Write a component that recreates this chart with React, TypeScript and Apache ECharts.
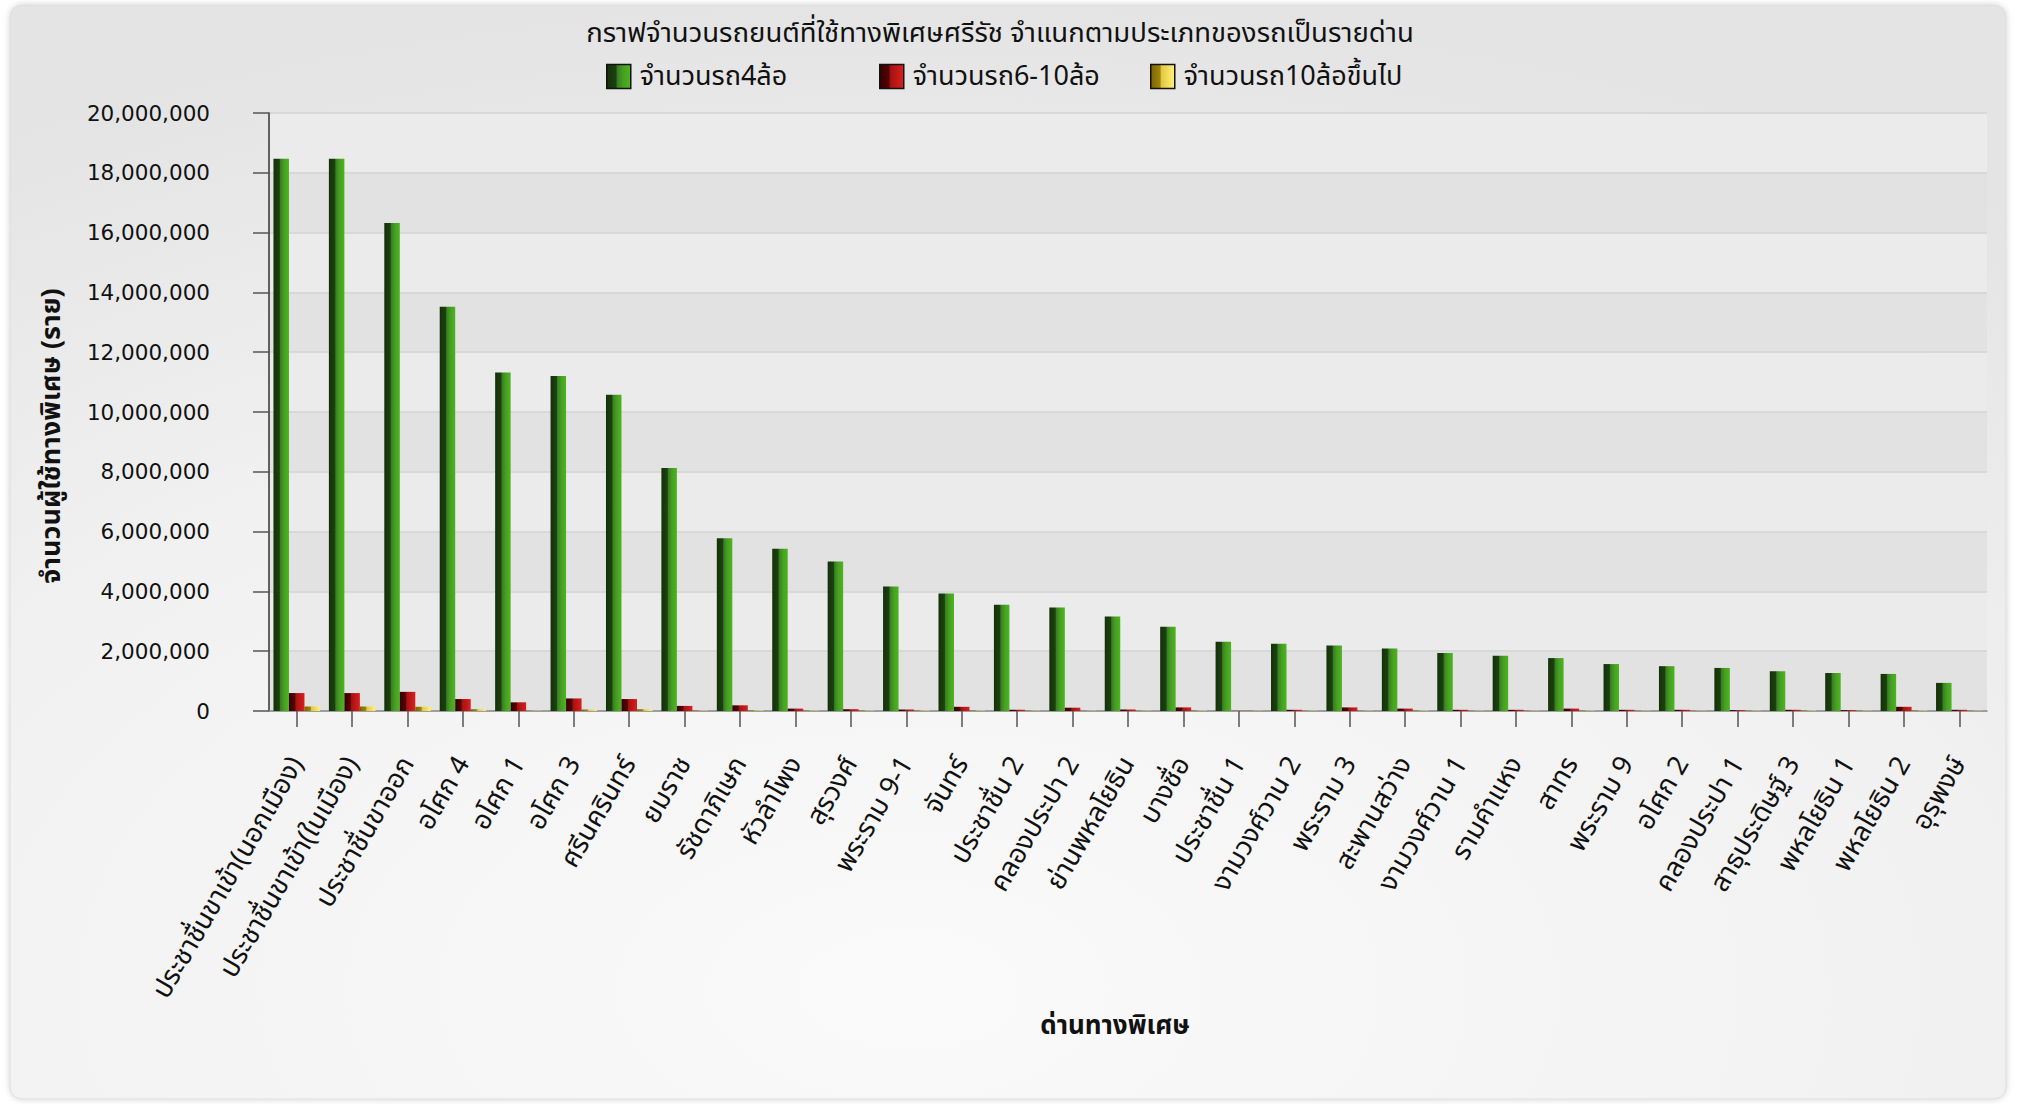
import React, { useEffect, useRef } from "react";
import * as echarts from "echarts";

const categories = [
  "ประชาชื่นขาเข้า(นอกเมือง)",
  "ประชาชื่นขาเข้า(ในเมือง)",
  "ประชาชื่นขาออก",
  "อโศก 4",
  "อโศก 1",
  "อโศก 3",
  "ศรีนครินทร์",
  "ยมราช",
  "รัชดาภิเษก",
  "หัวลำโพง",
  "สุรวงศ์",
  "พระราม 9-1",
  "จันทร์",
  "ประชาชื่น 2",
  "คลองประปา 2",
  "ย่านพหลโยธิน",
  "บางซื่อ",
  "ประชาชื่น 1",
  "งามวงศ์วาน 2",
  "พระราม 3",
  "สะพานสว่าง",
  "งามวงศ์วาน 1",
  "รามคำแหง",
  "สาทร",
  "พระราม 9",
  "อโศก 2",
  "คลองประปา 1",
  "สาธุประดิษฐ์ 3",
  "พหลโยธิน 1",
  "พหลโยธิน 2",
  "อุรุพงษ์",
];

const cars4 = [
  18470000, 18470000, 16320000, 13520000, 11320000, 11200000, 10580000, 8130000,
  5780000, 5430000, 5000000, 4160000, 3930000, 3550000, 3460000, 3160000, 2820000,
  2320000, 2250000, 2190000, 2090000, 1940000, 1850000, 1770000, 1570000, 1500000,
  1440000, 1330000, 1270000, 1240000, 940000,
];

const cars6to10 = [
  600000, 600000, 640000, 400000, 290000, 420000, 400000, 170000, 190000, 80000,
  60000, 50000, 140000, 40000, 110000, 50000, 120000, 5000, 40000, 120000, 80000,
  40000, 40000, 80000, 40000, 40000, 30000, 40000, 30000, 140000, 40000,
];

const cars10plus = [
  150000, 150000, 140000, 60000, 10000, 50000, 60000, 15000, 20000, 15000, 15000,
  15000, 15000, 10000, 10000, 10000, 15000, 10000, 10000, 10000, 15000, 10000,
  10000, 15000, 10000, 10000, 10000, 15000, 10000, 15000, 10000,
];

const seriesNames = ["จำนวนรถ4ล้อ", "จำนวนรถ6-10ล้อ", "จำนวนรถ10ล้อขึ้นไป"];
const yTickInterval = 2000000;
const yMax = 20000000;

const TH = '"Noto Sans Thai", "Noto Sans Thai Looped", "Noto Sans", "DejaVu Sans", sans-serif';

function grad(stops: [number, string][]) {
  return new echarts.graphic.LinearGradient(
    0, 0, 1, 0,
    stops.map(([offset, color]) => ({ offset, color }))
  );
}

export default function App() {
  const ref = useRef<HTMLDivElement>(null);

  useEffect(() => {
    if (!ref.current) return;
    const chart = echarts.init(ref.current, null, { renderer: "svg" });

    const green = grad([
      [0, "#143108"],
      [0.38, "#1c4110"],
      [0.45, "#3a7d27"],
      [0.7, "#45a21f"],
      [1, "#4db41f"],
    ]);
    const red = grad([
      [0, "#360000"],
      [0.38, "#560404"],
      [0.45, "#a41212"],
      [1, "#dc1e1e"],
    ]);
    const yellow = grad([
      [0, "#7a6400"],
      [0.38, "#9c8410"],
      [0.45, "#e4c840"],
      [1, "#fff27a"],
    ]);

    const legendBase = {
      top: 58,
      itemWidth: 24,
      itemHeight: 24,
      icon: "rect",
      itemStyle: { borderColor: "#111", borderWidth: 1.5 },
      textStyle: {
        fontFamily: TH,
        fontSize: 27,
        color: "#111",
        padding: [0, 0, 0, 4],
      },
      selectedMode: false,
    };

    chart.setOption({
      animation: false,
      backgroundColor: "#ffffff",
      graphic: [
        {
          type: "rect",
          z: -100,
          silent: true,
          shape: { x: 10, y: 5, width: 1996, height: 1094, r: 12 },
          style: {
            fill: new echarts.graphic.RadialGradient(0.45, 0.9, 0.9, [
              { offset: 0, color: "#fafafa" },
              { offset: 0.6, color: "#f1f1f1" },
              { offset: 1, color: "#e4e4e4" },
            ]),
            stroke: "#dcdcdc",
            lineWidth: 1,
            shadowBlur: 6,
            shadowColor: "rgba(0,0,0,0.18)",
          },
        },
      ],
      title: {
        text: "กราฟจำนวนรถยนต์ที่ใช้ทางพิเศษศรีรัช จำแนกตามประเภทของรถเป็นรายด่าน",
        left: 995,
        textAlign: "center",
        top: 14,
        textStyle: {
          fontFamily: TH,
          fontSize: 27.5,
          fontWeight: "normal",
          color: "#111",
        },
      },
      legend: [
        { ...legendBase, left: 601, data: [seriesNames[0]] },
        { ...legendBase, left: 874, data: [seriesNames[1]] },
        { ...legendBase, left: 1145, data: [seriesNames[2]] },
      ],
      grid: { left: 269, right: 33, top: 113, bottom: 393 },
      xAxis: {
        type: "category",
        data: categories,
        name: "ด่านทางพิเศษ",
        nameLocation: "middle",
        nameGap: 302,
        nameTextStyle: {
          fontFamily: TH,
          fontSize: 26,
          fontWeight: "bold",
          color: "#111",
          padding: [0, 26, 0, 0],
        },
        axisLine: { show: true, lineStyle: { color: "#8a8a8a", width: 1.5 } },
        axisTick: { show: true, alignWithLabel: true, length: 16, lineStyle: { color: "#555", width: 1.5 } },
        axisLabel: {
          interval: 0,
          rotate: 60,
          margin: 48,
          fontFamily: TH,
          fontSize: 27,
          color: "#111",
        },
        splitLine: { show: false },
      },
      yAxis: {
        type: "value",
        min: 0,
        max: yMax,
        interval: yTickInterval,
        name: "จำนวนผู้ใช้ทางพิเศษ (ราย)",
        nameLocation: "middle",
        nameGap: 204,
        nameRotate: 90,
        nameTextStyle: {
          fontFamily: TH,
          fontSize: 27,
          fontWeight: "bold",
          color: "#111",
          padding: [0, 48, 0, 0],
        },
        axisLine: { show: true, lineStyle: { color: "#333", width: 1.5 } },
        axisTick: { show: true, length: 16, lineStyle: { color: "#555", width: 1.5 } },
        axisLabel: {
          margin: 59,
          fontFamily: '"DejaVu Sans", Verdana, sans-serif',
          fontSize: 21.5,
          color: "#111",
          padding: [10, 0, 0, 0],
          formatter: (v: number) => v.toLocaleString("en-US"),
        },
        splitLine: { show: true, lineStyle: { color: "#d3d3d3", width: 1.5 } },
        splitArea: { show: true, areaStyle: { color: ["#e2e2e2", "#ebebeb"] } },
      },
      series: [
        {
          name: seriesNames[0],
          type: "bar",
          data: cars4,
          barWidth: 15.5,
          barGap: "0%",
          itemStyle: { color: green },
        },
        {
          name: seriesNames[1],
          type: "bar",
          data: cars6to10,
          barWidth: 15.5,
          barGap: "0%",
          itemStyle: { color: red },
        },
        {
          name: seriesNames[2],
          type: "bar",
          data: cars10plus,
          barWidth: 15.5,
          barGap: "0%",
          itemStyle: { color: yellow },
        },
      ],
    });

    return () => chart.dispose();
  }, []);

  return (
    <div
      ref={ref}
      style={{ position: "fixed", left: 0, top: 0, width: 2020, height: 1104 }}
    />
  );
}
